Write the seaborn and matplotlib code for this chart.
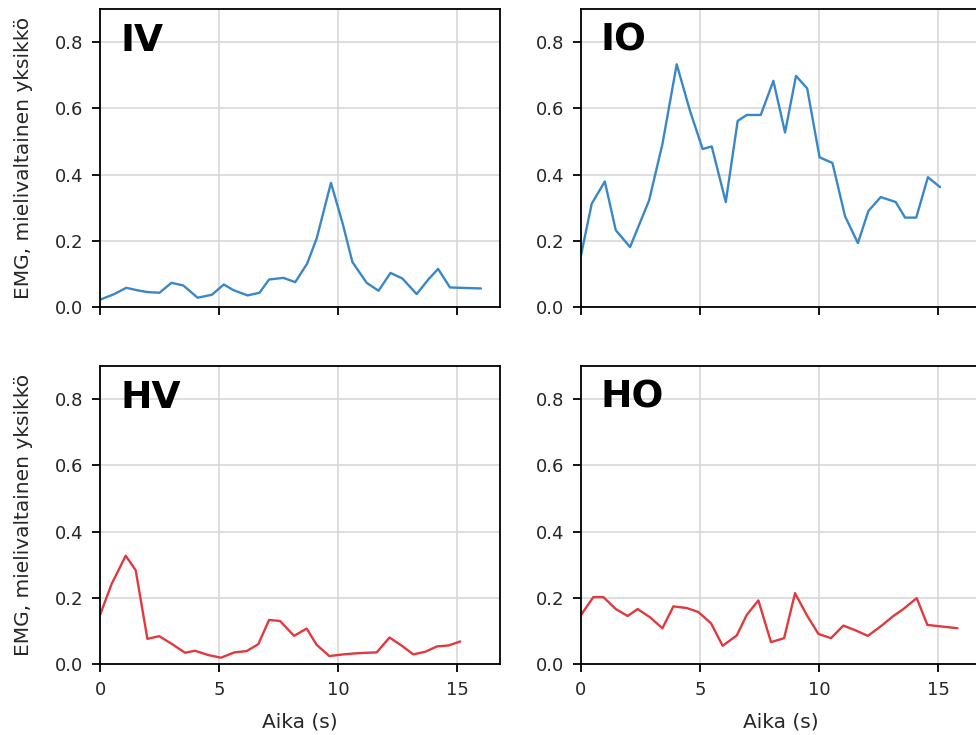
import numpy as np
import pandas as pd
import matplotlib
matplotlib.use("Agg")
import matplotlib.pyplot as plt
import seaborn as sns

# ---- data ----
iv_t = [0.0, 0.6, 1.1, 1.6, 2.0, 2.5, 3.0, 3.5, 4.1, 4.7, 5.2, 5.6, 6.2, 6.7, 7.1, 7.7, 8.2,
        8.7, 9.1, 9.7, 10.2, 10.6, 11.2, 11.7, 12.2, 12.7, 13.3, 13.8, 14.2, 14.7, 16.0]
iv_v = [0.022, 0.039, 0.058, 0.050, 0.045, 0.043, 0.073, 0.065, 0.028, 0.037, 0.068, 0.051,
        0.035, 0.043, 0.083, 0.088, 0.075, 0.131, 0.207, 0.375, 0.25, 0.136, 0.073, 0.049,
        0.103, 0.086, 0.039, 0.084, 0.115, 0.059, 0.056]

io_t = [0.0, 0.45, 1.0, 1.46, 2.06, 2.86, 3.42, 4.02, 4.58, 5.11, 5.49, 6.08, 6.58, 6.96,
        7.55, 8.08, 8.57, 9.03, 9.5, 10.02, 10.56, 11.09, 11.63, 12.07, 12.59, 13.22, 13.61,
        14.08, 14.57, 15.08]
io_v = [0.156, 0.312, 0.379, 0.232, 0.181, 0.322, 0.492, 0.733, 0.592, 0.477, 0.485, 0.317,
        0.562, 0.58, 0.58, 0.683, 0.527, 0.698, 0.66, 0.452, 0.435, 0.274, 0.193, 0.29,
        0.332, 0.317, 0.27, 0.27, 0.392, 0.362]

hv_t = [0.0, 0.49, 1.08, 1.5, 1.99, 2.49, 3.01, 3.57, 3.99, 4.55, 5.08, 5.64, 6.16, 6.65,
        7.1, 7.56, 8.15, 8.68, 9.1, 9.63, 10.22, 10.71, 11.2, 11.62, 12.16, 12.68, 13.16,
        13.66, 14.15, 14.64, 15.13]
hv_v = [0.148, 0.242, 0.327, 0.283, 0.076, 0.084, 0.061, 0.034, 0.04, 0.027, 0.019, 0.035,
        0.039, 0.06, 0.133, 0.13, 0.085, 0.107, 0.058, 0.024, 0.029, 0.032, 0.034, 0.035,
        0.08, 0.055, 0.029, 0.037, 0.053, 0.056, 0.068]

ho_t = [0.0, 0.52, 0.94, 1.46, 1.96, 2.38, 2.9, 3.42, 3.88, 4.44, 4.93, 5.46, 5.95, 6.54,
        6.96, 7.45, 7.98, 8.53, 8.99, 9.48, 9.97, 10.5, 11.02, 11.55, 12.05, 12.63, 13.12,
        13.54, 14.1, 14.55, 15.81]
ho_v = [0.148, 0.202, 0.202, 0.166, 0.145, 0.166, 0.141, 0.108, 0.174, 0.169, 0.157, 0.123,
        0.055, 0.086, 0.148, 0.192, 0.066, 0.078, 0.214, 0.148, 0.091, 0.078, 0.116, 0.101,
        0.085, 0.116, 0.145, 0.166, 0.199, 0.118, 0.108]

panels = ["IV", "IO", "HV", "HO"]
x_ticks = [0, 5, 10, 15]
y_ticks = [0.0, 0.2, 0.4, 0.6, 0.8]
ylabel = "EMG, mielivaltainen yksikkö"
xlabel = "Aika (s)"

BLUE = "#3a87c7"
RED = "#e0393e"

sns.set_style("ticks")
plt.rcParams["font.family"] = ["DejaVu Sans"]

fig = plt.figure(figsize=(9.76, 7.35), dpi=100)
W, H = 976, 735
def pos(x0, y0, x1, y1):
    return [x0 / W, 1 - y1 / H, (x1 - x0) / W, (y1 - y0) / H]

ax_iv = fig.add_axes(pos(100, 9, 500, 307))
ax_io = fig.add_axes(pos(581, 9, 981, 307))
ax_hv = fig.add_axes(pos(100, 366, 500, 664))
ax_ho = fig.add_axes(pos(581, 366, 981, 664))

series = [
    (ax_iv, iv_t, iv_v, BLUE, panels[0]),
    (ax_io, io_t, io_v, BLUE, panels[1]),
    (ax_hv, hv_t, hv_v, RED, panels[2]),
    (ax_ho, ho_t, ho_v, RED, panels[3]),
]

for ax, t, v, c, name in series:
    df = pd.DataFrame({"t": t, "v": v})
    sns.lineplot(data=df, x="t", y="v", ax=ax, color=c, linewidth=1.7)
    ax.set_xlim(0, 16.8)
    ax.set_ylim(0, 0.9)
    ax.set_xticks(x_ticks)
    ax.set_yticks(y_ticks)
    ax.set_yticklabels([f"{y:.1f}" for y in y_ticks])
    ax.grid(True, color="#d5d5d5", linewidth=1.1)
    ax.set_axisbelow(True)
    for s in ax.spines.values():
        s.set_visible(True)
        s.set_color("black")
        s.set_linewidth(1.3)
    ax.tick_params(labelsize=13, length=6, width=1.3, pad=6, color="black",
                   labelcolor="#262626")
    ax.text(0.05, 0.954, name, transform=ax.transAxes, ha="left", va="top",
            fontsize=27, fontweight="bold", color="black")
    ax.set_xlabel("")
    ax.set_ylabel("")

for ax in (ax_iv, ax_io):
    ax.tick_params(labelbottom=False)

for ax in (ax_iv, ax_hv):
    ax.set_ylabel(ylabel, fontsize=14.5, color="#262626")
    ax.yaxis.set_label_coords(-0.168, 0.5)

for ax in (ax_hv, ax_ho):
    ax.set_xlabel(xlabel, fontsize=14.5, color="#262626")
    ax.xaxis.set_label_coords(0.5, -0.162)

fig.savefig("out.png", dpi=100)
